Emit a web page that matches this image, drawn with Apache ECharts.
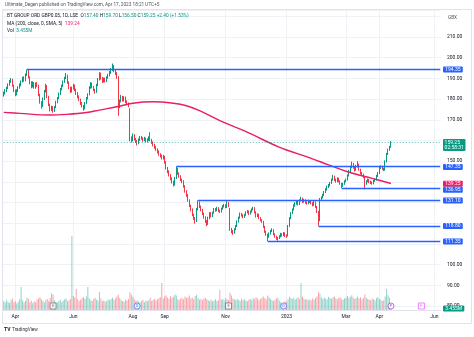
<!DOCTYPE html>
<html>
<head>
<meta charset="utf-8">
<title>BT GROUP ORD GBP0.05, 1D, LSE</title>
<script src="https://cdn.jsdelivr.net/npm/echarts@6/dist/echarts.min.js"></script>
<style>
  html, body { margin: 0; padding: 0; background: #ffffff; }
  #chart { width: 474px; height: 337px; }
</style>
</head>
<body>
<div id="chart"></div>
<script>
// Daily bars, 22 Mar 2022 .. 17 Apr 2023: [open, close, low, high]
const candles = [
  [182.0,182.8,181.2,183.6],[182.8,184.0,182.2,184.8],[184.0,185.2,183.4,186.0],[185.2,187.0,184.8,187.6],[187.0,188.4,186.4,189.2],
  [188.4,189.2,187.8,190.2],[189.2,186.5,186.0,189.8],[186.5,184.0,183.4,187.0],[184.0,182.2,181.4,184.6],[182.2,184.0,181.8,184.8],
  [184.0,185.6,183.4,186.2],[185.6,186.8,185.0,187.6],[186.8,188.5,186.2,189.0],[188.5,190.2,188.0,190.8],[190.2,189.0,188.4,191.0],
  [189.0,191.8,188.6,192.4],[191.8,193.6,191.2,194.35],[193.6,190.5,190.0,194.0],[190.5,188.0,187.2,191.0],[188.0,186.0,185.2,188.6],
  [186.0,187.8,185.6,188.6],[187.8,185.5,185.0,188.2],[185.5,187.2,185.0,188.0],[187.2,186.5,185.8,188.2],[186.5,182.0,181.4,187.0],
  [182.0,178.4,177.8,182.6],[178.4,176.6,175.4,179.0],[176.6,180.2,176.2,180.8],[180.2,183.8,179.6,184.4],[183.8,186.4,183.2,187.4],
  [186.4,181.0,180.4,186.8],[181.0,177.2,176.6,181.6],[177.2,174.8,174.0,177.8],[174.8,176.2,174.2,176.8],[176.2,174.2,173.4,176.6],
  [174.2,176.0,173.8,176.6],[176.0,178.6,175.6,179.2],[178.6,180.4,178.0,181.0],[180.4,182.6,180.0,183.2],[182.6,184.8,182.0,185.4],
  [184.8,186.2,184.2,187.0],[186.2,188.4,185.8,189.0],[188.4,190.2,187.8,190.8],[190.2,191.4,189.6,192.6],[191.4,188.0,187.4,191.8],
  [188.0,185.4,184.8,188.6],[185.4,183.8,183.0,186.0],[183.8,185.2,183.2,186.0],[185.2,186.6,184.6,187.4],[186.6,184.4,183.8,187.0],
  [184.4,182.8,182.0,185.0],[182.8,181.0,180.4,183.4],[181.0,179.6,179.0,181.8],[179.6,178.0,177.2,180.2],[178.0,176.8,176.0,178.6],
  [176.8,175.4,174.4,177.2],[175.4,178.0,175.0,178.6],[178.0,180.4,177.6,181.0],[180.4,182.2,179.8,182.8],[182.2,185.6,181.8,186.2],
  [185.6,187.4,185.0,188.2],[187.4,185.8,185.2,188.0],[185.8,184.4,183.8,186.4],[184.4,183.4,182.6,185.0],[183.4,186.8,183.0,187.4],
  [186.8,189.6,186.2,190.2],[189.6,192.2,189.0,193.0],[192.2,190.0,189.4,192.8],[190.0,188.4,187.8,190.6],[188.4,189.8,188.0,190.4],
  [189.8,188.6,188.0,190.4],[188.6,190.4,188.2,191.0],[190.4,191.6,189.8,192.2],[191.6,192.8,191.0,193.6],[192.8,194.2,192.2,195.0],
  [194.2,195.8,193.6,197.2],[195.8,193.8,193.0,196.4],[193.8,192.4,191.6,194.4],[192.4,190.6,189.8,193.0],[190.6,176.4,172.0,191.0],
  [176.4,179.0,175.6,179.8],[179.0,181.0,178.4,182.0],[181.0,179.4,178.8,181.6],[179.4,180.6,178.8,181.4],[180.6,178.8,178.0,181.2],
  [178.8,177.8,177.0,179.4],[177.8,176.8,176.0,178.4],[175.0,161.2,159.6,175.6],[161.2,160.0,159.0,162.0],[160.0,162.6,159.6,163.4],
  [162.6,160.8,160.0,163.0],[160.8,159.6,158.8,161.2],[159.6,158.8,157.6,160.2],[158.8,160.4,158.2,161.0],[160.4,161.6,159.8,162.2],
  [161.6,161.0,160.4,162.2],[161.0,160.2,159.4,161.6],[160.2,161.0,159.6,161.8],[161.0,159.6,159.0,161.4],[159.6,160.4,159.0,161.0],
  [160.4,161.2,159.8,162.0],[161.2,160.2,159.6,164.0],[160.2,159.0,158.4,160.8],[159.0,157.8,157.2,159.6],[157.8,156.8,156.0,158.4],
  [156.8,155.6,155.0,157.4],[155.6,154.6,153.8,156.2],[154.6,153.2,152.6,155.2],[153.2,152.6,151.8,153.8],[152.6,151.6,150.8,153.2],
  [151.6,152.2,150.8,153.0],[152.2,149.4,148.8,152.6],[149.4,146.6,146.0,150.0],[146.6,145.0,144.2,147.2],[145.0,143.2,142.6,145.6],
  [143.2,141.6,140.8,143.8],[141.6,140.0,139.2,142.2],[140.0,138.6,137.8,140.6],[138.6,141.8,138.2,142.4],[141.8,146.2,141.4,147.35],
  [146.2,144.0,143.4,146.8],[144.0,142.6,142.0,144.6],[142.6,141.0,140.4,143.2],[141.0,140.2,139.4,141.6],[140.2,137.8,137.2,140.8],
  [137.8,135.4,134.8,138.4],[135.4,133.6,132.8,136.0],[133.6,131.0,130.4,134.2],[131.0,128.4,127.8,131.6],[128.4,126.6,125.8,129.0],
  [126.6,124.0,123.4,127.2],[124.0,122.4,121.6,124.6],[122.4,121.0,119.8,123.0],[121.0,126.8,120.6,127.4],[126.8,130.0,126.2,131.1],
  [130.0,128.0,127.4,130.6],[128.0,126.4,125.8,128.6],[126.4,124.6,124.0,127.0],[124.6,122.8,122.2,125.2],[122.8,121.0,120.2,123.4],
  [121.0,119.6,118.6,121.6],[119.6,122.6,119.2,123.2],[122.6,124.8,122.0,125.4],[124.8,123.4,122.8,125.4],[123.4,125.0,123.0,125.6],
  [125.0,126.8,124.6,127.4],[126.8,126.2,125.6,127.4],[126.2,127.4,125.8,128.0],[127.4,126.0,125.4,127.8],[126.0,125.6,125.0,126.6],
  [125.6,127.0,125.2,127.6],[127.0,128.2,126.6,128.8],[128.2,128.6,127.6,129.4],[128.6,127.8,127.2,129.2],[127.8,130.0,127.4,130.8],
  [130.0,128.4,127.8,130.4],[127.0,117.2,116.4,127.4],[117.2,116.0,115.2,117.8],[116.0,115.4,114.4,116.8],[115.4,117.0,115.0,117.6],
  [117.0,118.6,116.6,119.2],[118.6,120.8,118.2,121.4],[120.8,122.6,120.4,123.2],[122.6,124.6,122.2,125.2],[124.6,123.8,123.2,125.0],
  [123.8,123.0,122.4,124.4],[123.0,124.0,122.6,124.6],[124.0,125.2,123.6,125.8],[125.2,125.8,124.8,126.4],[125.8,124.6,124.0,126.2],
  [124.6,125.6,124.2,126.2],[125.6,126.6,125.2,127.2],[126.6,127.4,126.2,128.0],[127.4,125.4,124.8,127.8],[125.4,123.4,122.8,125.8],
  [123.4,124.2,123.0,124.8],[124.2,122.6,122.0,124.6],[122.6,121.6,121.0,123.0],[121.6,120.8,120.2,122.0],[120.8,118.4,117.8,121.2],
  [118.4,116.0,115.4,118.8],[116.0,114.6,114.0,116.4],[114.6,113.4,111.35,115.0],[113.4,115.0,113.0,115.6],[115.0,116.2,114.6,116.8],
  [116.2,116.8,115.8,117.6],[116.8,114.8,114.2,117.2],[114.8,113.6,113.0,115.2],[113.6,112.6,112.0,114.0],[112.6,112.8,111.6,113.4],
  [112.8,113.6,112.4,114.2],[113.6,114.8,113.2,115.4],[114.8,114.2,113.6,115.2],[114.2,115.2,113.8,115.8],[115.2,114.0,113.4,115.6],
  [114.0,113.8,113.0,114.6],[113.8,118.6,113.6,119.2],[118.6,122.4,118.2,123.0],[122.4,124.8,122.0,125.4],[124.8,126.6,124.4,127.2],
  [126.6,128.6,126.2,129.2],[128.6,129.6,128.0,130.2],[129.6,130.4,129.0,131.0],[130.4,129.2,128.6,130.8],[129.2,131.0,128.8,131.6],
  [131.0,132.0,130.6,132.8],[132.0,130.4,129.8,132.4],[130.4,131.2,130.0,131.8],[131.2,130.0,129.4,131.6],[130.0,129.6,129.0,130.6],
  [129.6,130.8,129.2,131.4],[130.8,130.4,129.8,131.2],[130.4,129.8,129.2,130.8],[129.8,128.8,128.2,130.2],[128.8,130.2,128.4,130.8],
  [130.2,128.0,127.4,130.6],[128.0,125.6,125.0,128.4],[125.6,121.4,118.8,126.0],[121.4,131.6,121.0,132.2],[131.6,132.4,131.0,133.0],
  [132.4,133.6,132.0,134.2],[133.6,135.0,133.2,135.6],[135.0,136.4,134.6,137.0],[136.4,137.6,135.8,138.2],[137.6,138.2,137.0,139.0],
  [138.2,139.4,137.8,140.0],[139.4,141.0,139.0,141.6],[141.0,142.6,140.6,143.4],[142.6,141.0,140.4,143.0],[141.0,140.2,139.6,141.6],
  [140.2,141.6,139.8,142.2],[141.6,140.4,139.8,142.0],[140.4,139.2,138.6,140.8],[139.2,138.0,136.95,139.6],[138.0,139.0,137.6,139.6],
  [139.0,140.2,138.6,140.8],[140.2,141.0,139.8,141.6],[141.0,143.0,140.6,143.6],[143.0,145.2,142.6,145.8],[145.2,147.2,144.8,147.8],
  [147.2,148.6,146.6,149.8],[148.6,147.0,146.4,149.2],[147.0,145.8,145.0,147.4],[145.8,147.6,145.4,148.2],[147.6,148.4,147.0,150.0],
  [148.4,146.0,145.4,148.8],[146.0,144.2,143.6,146.4],[144.2,143.6,142.8,144.8],[143.6,142.4,141.8,144.0],[142.4,139.0,136.4,142.8],
  [139.0,140.2,138.6,140.8],[140.2,141.0,139.8,141.6],[141.0,140.0,139.4,141.4],[140.0,139.6,139.0,140.6],[139.6,139.2,138.6,140.2],
  [139.2,140.4,138.8,141.0],[140.4,141.0,140.0,141.6],[141.0,142.8,140.6,143.4],[142.8,144.2,142.4,144.8],[144.2,146.8,143.8,147.4],
  [146.8,147.4,146.2,148.0],[147.4,146.4,145.8,147.8],[146.4,145.8,145.2,146.8],[145.8,149.8,145.4,150.4],[149.8,153.4,149.4,154.0],
  [153.4,155.4,153.0,156.0],[155.4,156.85,155.0,157.4],[157.40,159.25,156.50,159.70]
];

// Daily volume, millions of shares
const volumes = [
  22,18,25,20,17,24,28,19,21,16, 20,26,56,24,18,22,30,27,19,23,
  17,21,19,25,28,31,26,22,18,24, 27,22,29,41,38,24,20,18,22,25,
  19,23,26,28,21,24,27,180,34,30, 51,26,22,25,29,31,27,33,56,28,
  24,22,27,30,25,23,44,28,21,24, 20,22,26,24,27,30,25,28,33,37,
  29,24,22,20,25,23,27,44,38,32, 26,22,24,20,18,22,25,19,23,21,
  24,30,22,25,27,23,26,29,31,66, 28,33,36,30,27,34,29,32,38,35,
  27,24,28,30,26,33,29,31,35,28, 30,26,34,37,29,25,27,24,28,30,
  26,24,22,25,21,23,26,22,24,49, 25,27,23,29,26,24,42,35,28,26,
  24,27,25,22,28,24,26,23,21,25, 27,24,29,26,31,28,24,27,30,33,
  29,26,35,31,27,24,22,25,28,30, 23,19,15,18,21,20,26,32,29,27,
  30,25,28,31,27,65,33,28,25,27, 24,26,23,28,25,29,33,44,40,31,
  27,30,28,26,32,29,27,31,33,28, 26,29,31,27,25,28,30,34,29,32,
  36,30,27,29,33,28,31,26,29,38, 30,27,25,24,28,26,23,29,31,27,
  25,22,24,33,51,36,30,3.455
];

// 200-day simple moving average of the close, sampled along the bars
const maBars   = [0, 11, 32, 43, 57, 66, 78, 89, 103, 117, 126, 135, 149, 166, 189, 195, 212, 224, 237, 254, 267];
const maValues = [173.6, 173.1, 172.3, 172.6, 173.5, 174.7, 176.3, 178.0, 178.7, 178.0, 176.8, 174.4, 169.6, 164.6, 157.0, 155.4, 151.4, 148.2, 144.9, 141.7, 139.24];

// Horizontal support / resistance levels and the bar each one is drawn from
const levelValues    = [194.35, 147.35, 136.95, 131.10, 118.80, 111.35];
const levelStartBars = [16, 119, 233, 134, 217, 182];

const lastPrice = 159.25;
const barCountdown = '02:58:31';
const maLabelText = '139.25';
const lastVolumeText = '3.455M';

// Month ticks on the time scale
const tickBars   = [8, 48, 89, 111, 153, 195, 236, 259, 297];
const tickLabels = ['Apr', 'Jun', 'Aug', 'Sep', 'Nov', '2023', 'Mar', 'Apr', 'Jun'];

// Corporate events: E = earnings, D = dividend, P = upcoming item
const eventBars  = [34, 92, 155, 193, 267, 288];
const eventKinds = ['E', 'D', 'E', 'D', 'P', 'E'];

// Bar slots along the time axis (traded bars plus empty space to the right)
const SLOT_COUNT = 302;
const barSlots = [];
for (let i = 0; i < SLOT_COUNT; i++) barSlots.push(String(i));

const headerText = 'Ultimate_Degen published on TradingView.com, Apr 17, 2023 18:21 UTC+5';
const symbolText = 'BT GROUP ORD GBP0.05, 1D, LSE';
const ohlcText = { O: '157.40', H: '159.70', L: '156.50', C: '159.25', chg: '+2.40 (+1.53%)' };
const maText = 'MA (200, close, 0, SMA, 5)';
const maValueText = '139.24';
const volText = 'Vol';
const currencyText = 'GBX';

const FONT = 'Roboto, "Liberation Sans", Arial, sans-serif';
const UP = '#089981', DOWN = '#f23645';
const UP_VOL = 'rgba(8,153,129,0.45)', DOWN_VOL = 'rgba(242,54,69,0.45)';
const LEVEL = '#2962ff', MA_COLOR = '#e91e63';
const GRID = '#eef1f6', FRAME = '#e0e3eb', TEXT = '#131722';
const LEGEND_FONT = '4.8px ' + FONT;

const chart = echarts.init(document.getElementById('chart'), null, { renderer: 'canvas' });

const volumeData = volumes.map((v, i) => ({
  value: v,
  itemStyle: { color: candles[i][1] >= candles[i][0] ? UP_VOL : DOWN_VOL }
}));

const eventStyle = {
  E: { symbol: 'rect', border: '#5d606b' },
  D: { symbol: 'circle', border: '#2962ff' },
  P: { symbol: 'circle', border: '#9c27b0' }
};
const eventData = eventBars.map((b, k) => {
  const kind = eventKinds[k];
  let border = eventStyle[kind].border;
  if (kind === 'E' && b >= candles.length) border = '#e040fb';
  return {
    value: [b, 0],
    symbol: eventStyle[kind].symbol,
    itemStyle: { color: '#ffffff', borderColor: border, borderWidth: 0.8 },
    label: { show: true, formatter: kind, position: 'inside', fontSize: 4, color: border, fontFamily: FONT }
  };
});

const markedPrices = [lastPrice, maValues[maValues.length - 1]].concat(levelValues);

const option = {
  animation: false,
  backgroundColor: '#ffffff',
  grid: [
    { left: 3, right: 33, top: 10, bottom: 30.9 },
    { left: 3, right: 33, top: 10, bottom: 27 }
  ],
  xAxis: [
    {
      type: 'category', gridIndex: 0, data: barSlots, boundaryGap: true,
      axisLine: { show: false }, axisTick: { show: false }, axisLabel: { show: false }, splitLine: { show: false }
    },
    {
      type: 'category', gridIndex: 1, data: barSlots, boundaryGap: true,
      axisLine: { show: true, lineStyle: { color: FRAME, width: 1 } },
      axisTick: { show: false },
      axisLabel: {
        interval: (i) => tickBars.includes(i),
        formatter: (v) => { const k = tickBars.indexOf(Number(v)); return k >= 0 ? tickLabels[k] : ''; },
        fontSize: 5, color: TEXT, fontFamily: FONT, margin: 4
      },
      splitLine: { show: false }
    }
  ],
  yAxis: [
    {
      type: 'value', gridIndex: 0, position: 'right', min: 80, max: 223.04, interval: 10,
      axisLine: { show: false }, axisTick: { show: false },
      axisLabel: {
        fontSize: 5, color: TEXT, fontFamily: FONT, margin: 6,
        formatter: (v) => {
          if (v > 215) return '';
          for (const p of markedPrices) if (Math.abs(v - p) < 2.5) return '';
          return v.toFixed(2);
        }
      },
      splitLine: { show: true, lineStyle: { color: GRID, width: 1 } }
    },
    { type: 'value', gridIndex: 1, min: 0, max: 730, show: false },
    { type: 'value', gridIndex: 1, min: 0, max: 1, show: false }
  ],
  series: [
    {
      name: 'Vol', type: 'bar', xAxisIndex: 1, yAxisIndex: 1,
      data: volumeData, barWidth: 1, silent: true,
      // vertical grid lines at the month ticks
      markLine: {
        symbol: 'none', silent: true, label: { show: false }, z: 0,
        lineStyle: { color: GRID, width: 1, type: 'solid' },
        data: tickBars.map((b) => ({ xAxis: b }))
      }
    },
    {
      name: 'Levels', type: 'line', xAxisIndex: 0, yAxisIndex: 0, data: [], silent: true,
      markLine: {
        symbol: 'none', silent: true, label: { show: false },
        lineStyle: { color: LEVEL, width: 1.4, type: 'solid' },
        data: levelValues.map((v, k) => [
          { coord: [levelStartBars[k], v] },
          { coord: [SLOT_COUNT - 1, v] }
        ])
      }
    },
    {
      name: 'BT.A', type: 'candlestick', xAxisIndex: 0, yAxisIndex: 0,
      data: candles, barWidth: 0.5,
      itemStyle: { color: UP, color0: DOWN, borderColor: UP, borderColor0: DOWN, borderWidth: 1 },
      markLine: {
        symbol: 'none', silent: true, label: { show: false },
        lineStyle: { color: UP, width: 1, type: [1, 2], opacity: 0.7 },
        data: [[{ coord: [0, lastPrice] }, { coord: [SLOT_COUNT - 1, lastPrice] }]]
      }
    },
    {
      name: 'MA', type: 'line', xAxisIndex: 0, yAxisIndex: 0,
      data: maBars.map((b, k) => [b, maValues[k]]),
      smooth: 0.4, showSymbol: false, silent: true,
      lineStyle: { color: MA_COLOR, width: 1.4 }
    },
    {
      name: 'Events', type: 'scatter', xAxisIndex: 1, yAxisIndex: 2,
      data: eventData, symbolSize: 6, symbolOffset: [0, -4], silent: true, z: 5
    }
  ]
};

chart.setOption(option);

// Price-scale badges, legend and header
function priceY(v) { return chart.convertToPixel({ xAxisIndex: 0, yAxisIndex: 0 }, [0, v])[1]; }
function volY(v) { return chart.convertToPixel({ xAxisIndex: 1, yAxisIndex: 1 }, [0, v])[1]; }

const BADGE_X = 443, BADGE_H = 5.6;
const badges = [
  { y: priceY(maValues[maValues.length - 1]), text: maLabelText, bg: MA_COLOR }
].concat(levelValues.map((v) => ({ y: priceY(v), text: v.toFixed(2), bg: LEVEL })));
badges.sort((a, b) => a.y - b.y);
for (let k = 1; k < badges.length; k++) {
  const minY = badges[k - 1].y + BADGE_H + 0.6;
  if (badges[k].y < minY) badges[k].y = minY;
}

const graphics = [];
// outer frame of the chart panel
graphics.push({
  type: 'rect', shape: { x: 2.5, y: 9.5, width: 469, height: 314 }, silent: true, z: -1,
  style: { fill: null, stroke: FRAME, lineWidth: 1 }
});
badges.forEach((b) => {
  graphics.push({
    type: 'text', left: BADGE_X, top: b.y - BADGE_H / 2, z: 100,
    style: {
      text: b.text, fill: '#ffffff', font: '5px ' + FONT,
      backgroundColor: b.bg, padding: [0.6, 2.2, 0.4, 2.2], borderRadius: 1
    }
  });
});
// last price with countdown to the bar close
graphics.push({
  type: 'text', left: BADGE_X, top: priceY(lastPrice) - 3, z: 100,
  style: {
    text: lastPrice.toFixed(2) + '\n' + barCountdown, fill: '#ffffff', font: '5px ' + FONT,
    lineHeight: 5.5, backgroundColor: UP, padding: [0.6, 1.6, 0.4, 1.6], borderRadius: 1
  }
});
// current volume badge
graphics.push({
  type: 'text', left: BADGE_X, top: volY(volumes[volumes.length - 1]) - 3, z: 100,
  style: {
    text: lastVolumeText, fill: '#ffffff', font: '5px ' + FONT,
    backgroundColor: UP, padding: [0.6, 2.2, 0.4, 2.2], borderRadius: 1
  }
});
// header and legend
graphics.push(
  { type: 'text', left: 5, top: 2.5, style: { text: headerText, fill: '#50535e', font: '4.7px ' + FONT } },
  { type: 'text', left: 448, top: 15.5, style: { text: currencyText, fill: '#50535e', font: '4.7px ' + FONT } },
  {
    type: 'text', left: 7, top: 13.8,
    style: {
      text: '{t|' + symbolText + '}  {k|O}{v|' + ohlcText.O + '} {k|H}{v|' + ohlcText.H + '} {k|L}{v|' + ohlcText.L +
            '} {k|C}{v|' + ohlcText.C + '} {v|' + ohlcText.chg + '}',
      font: LEGEND_FONT,
      rich: {
        t: { fill: TEXT, font: LEGEND_FONT },
        k: { fill: TEXT, font: LEGEND_FONT },
        v: { fill: UP, font: LEGEND_FONT }
      }
    }
  },
  {
    type: 'text', left: 7, top: 21,
    style: {
      text: '{t|' + maText + '}  {m|' + maValueText + '}', font: LEGEND_FONT,
      rich: { t: { fill: TEXT, font: LEGEND_FONT }, m: { fill: MA_COLOR, font: LEGEND_FONT } }
    }
  },
  {
    type: 'text', left: 7, top: 28,
    style: {
      text: '{t|' + volText + '}  {v|' + lastVolumeText + '}', font: LEGEND_FONT,
      rich: { t: { fill: TEXT, font: LEGEND_FONT }, v: { fill: UP, font: LEGEND_FONT } }
    }
  },
  { type: 'text', left: 4, top: 327.5, style: { text: 'TV', fill: TEXT, font: 'bold 5px ' + FONT } },
  { type: 'text', left: 12, top: 327.8, style: { text: 'TradingView', fill: '#2a2e39', font: '4.7px ' + FONT } }
);

chart.setOption({ graphic: graphics });
</script>
</body>
</html>
